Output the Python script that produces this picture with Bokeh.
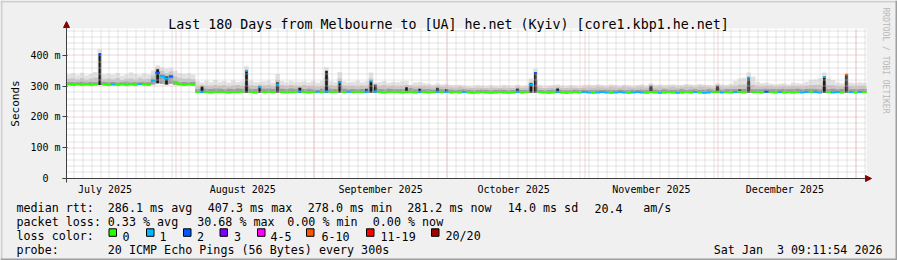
import math
import datetime as dt
from bokeh.plotting import figure
from bokeh.models import (FixedTicker, Label, Arrow, NormalHead,
                          BoxAnnotation, Range1d, ColumnDataSource)
from bokeh.embed import file_html
from bokeh.resources import INLINE

# ---------------- data (one value per day, 180 days) ----------------
med = [306,305,306,305,306,305,306,405,306,305,
       306,305,306,305,306,305,307,306,305,318,
       343,333,325,332,312,306,305,306,305,281,
       282,281,280,281,282,281,280,281,281,282,
       350,281,280,297,281,282,281,305,281,280,
       281,282,283,281,280,281,282,281,283,281,
       282,313,281,282,281,282,281,282,316,283,
       281,280,281,282,281,280,282,281,280,282,
       281,280,281,282,281,282,280,281,280,281,
       280,279,280,281,280,279,280,281,280,279,
       280,282,280,281,305,343,281,280,279,280,
       282,280,279,280,281,280,281,280,279,280,
       281,280,279,280,281,280,279,280,281,280,
       279,281,280,279,280,281,280,279,280,281,
       280,281,280,279,280,281,282,280,281,280,
       281,282,280,328,281,281,280,282,281,280,
       281,280,281,280,281,280,281,282,281,280,
       330,281,280,281,280,337,281,280,281,281]

loss = [0,0,0,0,0,0,0,2,0,0,
        1,0,0,0,0,0,1,0,0,1,
        2,1,1,2,0,0,0,0,0,0,
        1,0,0,0,0,0,0,0,0,0,
        1,0,0,1,0,0,0,1,0,0,
        0,0,1,0,0,0,1,0,1,0,
        0,1,0,1,0,0,0,1,1,1,
        0,0,0,0,0,0,0,0,0,1,
        0,0,0,1,0,1,0,0,0,1,
        0,0,0,0,0,0,0,0,0,0,
        0,1,0,0,1,2,0,0,0,0,
        1,0,0,0,0,0,1,1,0,1,
        1,1,0,1,1,1,0,1,1,1,
        0,0,0,1,0,0,0,1,0,0,
        0,1,0,1,1,0,0,1,0,0,
        1,0,0,1,0,0,0,2,0,0,
        1,0,0,0,0,1,1,0,1,1,
        1,0,1,1,0,5,1,0,1,0]

smoke_lo = [304,303,304,303,304,303,304,304,304,303,
            304,303,304,303,304,303,305,304,303,306,
            310,308,306,308,305,304,303,304,303,279,
            279,279,278,279,279,279,278,279,279,279,
            279,279,278,279,279,279,279,279,279,278,
            279,279,279,279,278,279,279,279,279,279,
            279,279,279,279,279,279,279,279,279,279,
            279,278,279,279,279,278,279,279,278,279,
            279,278,279,279,279,279,278,279,278,279,
            278,277,278,279,278,277,278,279,278,277,
            278,279,278,279,279,279,279,278,277,278,
            279,278,277,278,279,278,279,278,277,278,
            279,278,277,278,279,278,277,278,279,278,
            277,279,278,277,278,279,278,277,278,279,
            278,279,278,277,278,279,279,278,279,278,
            279,279,278,279,279,279,278,279,279,278,
            279,278,279,278,279,278,279,279,279,278,
            279,279,278,279,278,279,279,278,279,279]

smoke_dark = [313,314,313,315,312,314,313,315,314,313,
              314,312,313,315,312,314,313,314,313,324,
              350,340,332,338,318,313,314,313,314,291,
              295,292,291,293,292,290,292,291,293,292,
              300,292,291,296,292,293,291,300,292,291,
              293,292,295,291,292,290,288,292,300,292,
              291,305,292,290,291,290,291,290,305,296,
              291,290,292,291,290,291,292,294,290,292,
              290,291,289,292,290,290,289,288,289,290,
              288,287,288,289,288,287,288,289,288,287,
              288,290,288,289,300,300,288,287,288,289,
              290,288,287,288,289,288,289,288,287,289,
              288,289,287,288,289,288,287,289,288,289,
              288,295,289,288,290,289,288,289,290,288,
              289,290,288,289,290,289,295,289,290,291,
              290,290,291,300,290,291,290,292,290,291,
              290,291,290,291,292,290,291,292,291,290,
              300,291,292,290,291,300,290,291,290,291]

smoke_mid = [324,326,322,327,321,325,328,330,323,325,
             322,327,320,324,325,322,326,323,324,335,
             360,350,342,348,332,326,324,325,323,300,
             303,302,300,304,301,303,299,302,304,301,
             312,303,301,305,302,304,300,320,303,301,
             304,302,300,303,301,302,298,301,330,303,
             301,325,302,300,301,299,302,300,325,308,
             301,303,300,302,299,301,304,302,298,300,
             300,299,297,301,298,299,297,296,298,297,
             295,294,296,295,294,296,295,294,296,295,
             294,298,295,296,315,320,296,294,295,296,
             298,295,294,296,295,294,296,297,296,298,
             297,296,298,297,296,298,297,296,297,298,
             296,305,297,298,296,297,298,296,297,299,
             298,297,299,298,297,296,305,298,297,299,
             300,305,306,315,305,300,299,301,300,298,
             299,300,298,301,300,299,301,303,304,305,
             315,304,303,300,299,315,300,299,301,300]

smoke_top = [338,342,336,344,335,340,346,420,338,341,
             337,343,334,339,345,340,336,342,338,352,
             368,362,358,360,350,343,340,342,338,316,
             312,318,313,320,315,317,312,319,314,316,
             365,318,314,315,316,319,312,340,317,313,
             318,315,315,316,313,317,312,318,362,316,
             314,346,316,312,315,318,313,316,345,312,
             314,317,311,315,313,316,318,305,312,314,
             310,308,305,309,306,308,304,303,305,302,
             301,300,303,302,300,303,301,300,304,302,
             300,305,301,302,325,357,303,300,302,303,
             306,302,301,303,302,300,303,305,303,306,
             304,302,306,304,302,305,303,301,304,306,
             302,310,304,306,303,305,306,303,304,307,
             306,303,307,305,304,302,310,306,304,308,
             318,325,328,345,332,315,310,312,308,306,
             308,310,306,312,310,308,315,320,322,326,
             345,325,320,312,310,340,312,310,313,311]

# dense (black) smoke columns
spike_day = [7, 20, 22, 30, 40, 43, 47, 52, 58, 61, 67, 68, 69, 76, 79,
             83, 85, 101, 104, 105, 110, 131, 146, 151, 153, 170, 175]
spike_top = [405, 355, 332, 299, 350, 300, 313, 295, 350, 316, 292, 316, 305, 297, 292,
             295, 290, 293, 310, 346, 293, 302, 302, 290, 330, 332, 337]

loss_labels = ["0", "1", "2", "3", "4-5", "6-10", "11-19", "20/20"]
loss_colors = ["#26ff00", "#00b8ff", "#0059ff", "#7e00ff", "#ff00ff", "#ff5500", "#ff0000", "#a10000"]

y_ticks = [0, 100, 200, 300, 400]
y_tick_labels = ["0\u00a0\u00a0", "100 m", "200 m", "300 m", "400 m"]
month_names = ["July 2025", "August 2025", "September 2025", "October 2025",
               "November 2025", "December 2025"]

# ---------------- geometry ----------------
W, H = 897, 260
FL, FR, FT, FB = 66, 866, 28, 178     # plot area in canvas pixels
XMAX = 180.0                          # days shown
YMAX = 487.8                          # ms at top of plot area
FONT = "DejaVu Sans Mono"

def px_x(X):
    return (X - FL) / (FR - FL) * XMAX

def px_y(Y):
    return (FB - Y) / (FB - FT) * YMAX

def snap_x(v):   # put a vertical grid line on a pixel centre
    X = FL + v / XMAX * (FR - FL)
    return px_x(math.floor(X) + 0.5)

def snap_y(v):
    Y = FB - v / YMAX * (FB - FT)
    return px_y(math.floor(Y) + 0.5)

END_UTC = dt.datetime(2026, 1, 2, 22, 11, 54)
START_UTC = END_UTC - dt.timedelta(days=180)

def day_of(d):
    off = 11 if d >= dt.date(2025, 10, 5) else 10
    t = dt.datetime(d.year, d.month, d.day) - dt.timedelta(hours=off)
    return round((t - START_UTC).total_seconds() / 86400.0, 4)

month_starts = [dt.date(2025, m, 1) for m in (8, 9, 10, 11, 12)] + [dt.date(2026, 1, 1)]
major_x = [day_of(d) for d in month_starts]
label_x = [day_of(dt.date(2025, m, 16)) for m in (7, 8, 9, 10, 11, 12)]
minor_x = []
dd = dt.date(2025, 7, 9)
while dd <= dt.date(2026, 1, 3):
    v = day_of(dd)
    if 0 < v < XMAX:
        minor_x.append(v)
    dd += dt.timedelta(days=2)
minor_y = [v for v in range(20, 481, 20) if v % 100 != 0]
major_y = [100, 200, 300, 400]

# ---------------- figure: the frame covers the whole canvas ----------------
p = figure(width=W, height=H, output_backend="svg", toolbar_location=None, title=None,
           x_range=Range1d(px_x(0), px_x(W)), y_range=Range1d(px_y(H), px_y(0)),
           min_border_left=0, min_border_right=0, min_border_top=0, min_border_bottom=0,
           background_fill_color="#f0f0f0", border_fill_color="#f0f0f0",
           outline_line_color=None)
p.xgrid.visible = False
p.ygrid.visible = False

# white canvas of the graph
p.quad(left=[0], right=[XMAX], bottom=[0], top=[YMAX], fill_color="white", line_color=None)

# smoke
xs = [i + 0.5 for i in range(len(med))]
src = ColumnDataSource(dict(x=xs, lo=smoke_lo, top=smoke_top, mid=smoke_mid, dark=smoke_dark))
p.vbar(x="x", width=1.02, bottom="lo", top="top", source=src, fill_color="#e2e2e2", line_color=None)
p.vbar(x="x", width=1.02, bottom="lo", top="mid", source=src, fill_color="#c6c6c6", line_color=None)
p.vbar(x="x", width=1.02, bottom="lo", top="dark", source=src, fill_color="#9c9c9c", line_color=None)
p.vbar(x=[d + 0.5 for d in spike_day], width=0.6, bottom=[smoke_lo[d] for d in spike_day],
       top=spike_top, fill_color="#1c1c1c", line_color=None)

# grid (dotted), drawn over the smoke as rrdtool does
for xsv, col in ((minor_x, "#c8c8c8"), (major_x, "#eca8a8")):
    gx = [snap_x(v) for v in xsv]
    p.segment(x0=gx, x1=gx, y0=[0] * len(gx), y1=[YMAX] * len(gx),
              line_color=col, line_width=1, line_dash="1 1")
for ysv, col in ((minor_y, "#c8c8c8"), (major_y, "#eca8a8")):
    gy = [snap_y(v) for v in ysv]
    p.segment(x0=[0] * len(gy), x1=[XMAX] * len(gy), y0=gy, y1=gy,
              line_color=col, line_width=1, line_dash="1 1")

# median line, coloured by loss, drawn as steps per run of equal colour;
# isolated peaks get a short cap only as wide as their smoke column
spike_set = set(spike_day)
runs_x, runs_y, runs_c = [], [], []
i, n = 0, len(med)
def is_peak(k):
    prev = med[k - 1] if k > 0 else med[k]
    nxt = med[k + 1] if k + 1 < n else med[k]
    return k in spike_set and med[k] - prev > 10 and med[k] - nxt > 10
while i < n:
    if is_peak(i):
        runs_x.append([i + 0.2, i + 0.8])
        runs_y.append([med[i], med[i]])
        runs_c.append(loss_colors[loss[i]])
        i += 1
        continue
    j = i
    rx, ry = [], []
    while (j < n and loss[j] == loss[i] and not is_peak(j)
           and (j == i or abs(med[j] - med[j - 1]) <= 10)):
        rx += [j, j + 1]
        ry += [med[j], med[j]]
        j += 1
    runs_x.append(rx)
    runs_y.append(ry)
    runs_c.append(loss_colors[loss[i]])
    i = j
p.multi_line(xs=runs_x, ys=runs_y, line_color=runs_c, line_width=2)

# real axes, pinned at 0 inside the frame
p.yaxis.fixed_location = 0
p.xaxis.fixed_location = 0
p.yaxis.ticker = FixedTicker(ticks=y_ticks)
p.yaxis.major_label_overrides = dict(zip(y_ticks, y_tick_labels))
p.yaxis.axis_line_color = None
p.yaxis.major_tick_out = 4
p.yaxis.major_tick_in = 1
p.yaxis.minor_tick_out = 0
p.yaxis.minor_tick_in = 0
p.yaxis.major_tick_line_color = "#404040"
p.yaxis.major_label_standoff = 2
p.xaxis.ticker = FixedTicker(ticks=label_x)
p.xaxis.major_label_overrides = dict(zip(label_x, month_names))
p.xaxis.axis_line_color = None
p.xaxis.major_tick_out = 0
p.xaxis.major_tick_in = 0
p.xaxis.minor_tick_out = 0
p.xaxis.minor_tick_in = 0
p.xaxis.major_label_standoff = 5
for ax in (p.xaxis, p.yaxis):
    ax.major_label_text_font = FONT
    ax.major_label_text_font_size = "10px"
    ax.major_label_text_color = "black"

# axis lines with arrow heads
p.add_layout(Arrow(x_start=0, y_start=px_y(182), x_end=0, y_end=px_y(21),
                   line_color="#404040", line_width=1,
                   end=NormalHead(size=6, fill_color="#8b0000", line_color="#8b0000", line_width=1)))
p.add_layout(Arrow(x_start=px_x(62), y_start=0, x_end=px_x(871), y_end=0,
                   line_color="#404040", line_width=1,
                   end=NormalHead(size=6, fill_color="#8b0000", line_color="#8b0000", line_width=1)))

def text(X, Y, s, size="11.7px", align="left", baseline="alphabetic", angle=0.0, color="black"):
    p.add_layout(Label(x=px_x(X), y=px_y(Y), text=s, text_font=FONT, text_font_size=size,
                       text_align=align, text_baseline=baseline, angle=angle, text_color=color))

# title, y label, watermark
text(448, 24, "Last 180 Days from Melbourne to [UA] he.net (Kyiv) [core1.kbp1.he.net]",
     size="13.3px", align="center")
text(15, 103, "Seconds", size="11px", align="center", angle=math.pi / 2)
text(884.5, 60, "RRDTOOL / TOBI OETIKER", size="8px", align="center", angle=-math.pi / 2,
     color="#b8b8b8")

# legend rows
rows = [
    (207.7, [("median rtt:", 16), ("286.1 ms avg", 107.3), ("407.3 ms max", 207.3),
             ("278.0 ms min", 307.3), ("281.2 ms now", 406.7), ("14.0 ms sd", 507.3),
             ("20.4", 594), ("am/s", 642.7)]),
    (221.7, [("packet loss:", 16), ("0.33 % avg", 107.3), ("30.68 % max", 196.7),
             ("0.00 % min", 286.7), ("0.00 % now", 372.3)]),
    (235.7, [("loss color:", 16)]),
    (249.7, [("probe:", 16), ("20 ICMP Echo Pings (56 Bytes) every 300s", 107.3),
             ("Sat Jan", 713.3), ("3 09:11:54 2026", 776.5)]),
]
for y, toks in rows:
    for s, x in toks:
        text(x, y, s)

box_x = [108.5, 146, 183, 219.5, 257, 306, 366, 431]
lab_x = [122, 159, 196.5, 233.5, 270, 321, 380, 445]
for bx, lx, lab, col in zip(box_x, lab_x, loss_labels, loss_colors):
    p.add_layout(BoxAnnotation(left=px_x(bx), right=px_x(bx + 7.5), top=px_y(228.3), bottom=px_y(235.8),
                               fill_color=col, fill_alpha=1.0, line_color="black", line_alpha=1.0,
                               line_width=1))
    text(lx, 235.7, lab)

# 3D frame of the canvas
for l, r, t, b, c in [(0, 897, 0, 2, "#cfcfcf"), (0, 2, 0, 260, "#cfcfcf"),
                      (0, 897, 258, 260, "#9e9e9e"), (895, 897, 0, 260, "#9e9e9e")]:
    p.add_layout(BoxAnnotation(left=px_x(l), right=px_x(r), top=px_y(t), bottom=px_y(b),
                               fill_color=c, fill_alpha=1.0, line_color=None))

open("out.html", "w").write(file_html(p, INLINE))
